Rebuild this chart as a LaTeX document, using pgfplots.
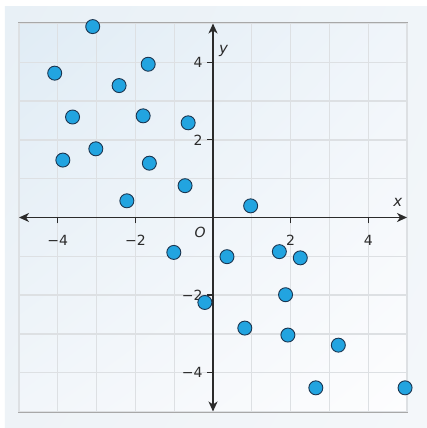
\documentclass[border=0pt]{standalone}
\usepackage{fontspec}
\setmainfont{DejaVu Sans}
\usepackage{pgfplots}
\pgfplotsset{compat=1.18}
\usetikzlibrary{arrows.meta,shadings}
\definecolor{axisdark}{HTML}{2B2B2B}
\definecolor{gridc}{HTML}{DDE0E3}
\definecolor{dotfill}{HTML}{22A4E0}
\definecolor{dotedge}{HTML}{1B3550}
\definecolor{boxgray}{HTML}{A8A8A8}
\definecolor{fUL}{RGB}{232,240,246}
\definecolor{fUR}{RGB}{240,245,249}
\definecolor{fLL}{RGB}{238,243,247}
\definecolor{fLR}{RGB}{244,247,250}
\definecolor{pUL}{RGB}{224,236,245}
\definecolor{pUR}{RGB}{240,245,250}
\definecolor{pLL}{RGB}{242,246,250}
\definecolor{pLR}{RGB}{253,253,254}
\begin{document}
\begin{tikzpicture}[x=1pt,y=1pt]
\fill[white] (-19,-16.5) rectangle (408,411.5);
\shade[upper left=fUL, upper right=fUR, lower left=fLL, lower right=fLR]
  (-14,-16.5) rectangle (408,404.5);
\shade[upper left=pUL, upper right=pUR, lower left=pLL, lower right=pLR]
  (0,0) rectangle (388,388);
\draw[boxgray, line width=2pt] (0,0) rectangle (388,388);
\begin{axis}[
  at={(0,0)}, anchor=south west,
  scale only axis, width=388pt, height=388pt,
  xmin=-5, xmax=5, ymin=-5, ymax=5,
  axis lines=middle,
  axis line style={axisdark, line width=1.6pt},
  x axis line style={{Stealth[length=10pt,width=9pt,inset=3pt]}-{Stealth[length=10pt,width=9pt,inset=3pt]}},
  y axis line style={{Stealth[length=10pt,width=9pt,inset=3pt]}-{Stealth[length=10pt,width=9pt,inset=3pt]}},
  xtick={-4,-2,2,4}, ytick={-4,-2,2,4},
  xticklabels={−4,−2,2,4}, yticklabels={−4,−2,2,4},
  minor xtick={-5,-4,...,5}, minor ytick={-5,-4,...,5},
  grid=both,
  major grid style={gridc, line width=1.3pt},
  minor grid style={gridc, line width=1.3pt},
  tick align=outside,
  major tick length=6pt, minor tick length=0pt,
  tick style={axisdark, line width=1.2pt},
  xticklabel style={font=\fontsize{14}{16}\selectfont, text=axisdark, yshift=-8pt},
  yticklabel style={font=\fontsize{14}{16}\selectfont, text=axisdark, xshift=-1pt},
  clip=false,
]
\addplot[only marks, mark=*, mark size=7pt,
  mark options={fill=dotfill, draw=dotedge, line width=0.9pt}]
  coordinates {
  (-3.1,4.92) (-4.08,3.72) (-1.67,3.95) (-2.42,3.40) (-3.62,2.59)
  (-1.80,2.62) (-0.64,2.44) (-3.02,1.77) (-3.87,1.48) (-1.64,1.40)
  (-0.72,0.82) (-2.22,0.43) (0.97,0.30) (-1.01,-0.90) (-0.21,-2.19)
  (0.36,-1.01) (1.71,-0.88) (2.25,-1.04) (1.87,-1.99) (0.82,-2.85)
  (1.93,-3.03) (3.23,-3.29) (2.65,-4.39) (4.95,-4.39)
  };
\node[font=\itshape\fontsize{14}{16}\selectfont, text=axisdark] at (axis cs:-0.33,-0.39) {O};
\node[font=\itshape\fontsize{15}{17}\selectfont, text=axisdark] at (axis cs:4.76,0.38) {x};
\node[font=\itshape\fontsize{15}{17}\selectfont, text=axisdark] at (axis cs:0.27,4.29) {y};
\end{axis}
\end{tikzpicture}
\end{document}
